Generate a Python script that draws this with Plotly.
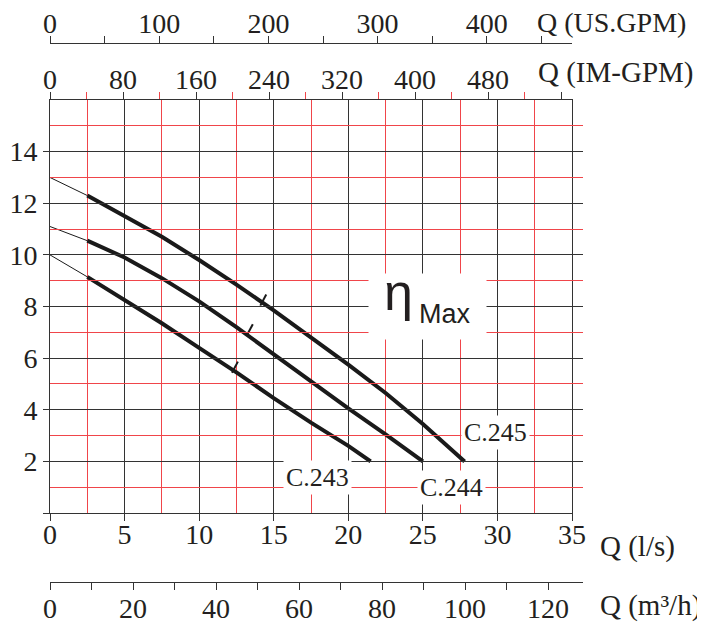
import plotly.graph_objects as go

# ---------------- data ----------------
c243_q = [0, 2.5, 5, 7.5, 10, 12.5, 15, 17.5, 20, 21.5]
c243_h = [10.0, 9.15, 8.25, 7.35, 6.4, 5.45, 4.45, 3.5, 2.6, 2.0]
c244_q = [0, 2.5, 5, 7.5, 10, 12.5, 15, 17.5, 20, 22.5, 25]
c244_h = [11.1, 10.55, 9.9, 9.1, 8.2, 7.2, 6.15, 5.1, 4.05, 3.05, 2.0]
c245_q = [0, 2.5, 5, 7.5, 10, 12.5, 15, 17.5, 20, 22.5, 25, 27.8]
c245_h = [13.0, 12.3, 11.5, 10.7, 9.8, 8.85, 7.85, 6.8, 5.75, 4.65, 3.45, 2.0]
eta_q = [12.4, 13.4, 14.3]
eta_h = [5.65, 7.1, 8.25]

ls_ticks = [0, 5, 10, 15, 20, 25, 30, 35]
ls_minor = [2.5, 7.5, 12.5, 17.5, 22.5, 27.5, 32.5]
h_ticks = [0, 2, 4, 6, 8, 10, 12, 14]
h_ticktext = ["", "2", "4", "6", "8", "10", "12", "14"]
h_minor = [1, 3, 5, 7, 9, 11, 13, 15]
imgpm_ticks = [0, 80, 160, 240, 320, 400, 480, 560]
imgpm_text = ["0", "80", "160", "240", "320", "400", "480", ""]
imgpm_minor = [40, 120, 200, 280, 360, 440, 520]
usgpm_ticks = [0, 100, 200, 300, 400]
usgpm_minor = [50, 150, 250, 350, 450]
m3h_ticks = [0, 20, 40, 60, 80, 100, 120]
m3h_minor = [10, 30, 50, 70, 90, 110]

TXT = "#231f20"
GRID = "#333333"
RED = "#f0454a"
SERIF = "Liberation Serif, Times New Roman, serif"
SANS = "Liberation Sans, Arial, sans-serif"

fig = go.Figure()

for q, h in [(c243_q, c243_h), (c244_q, c244_h), (c245_q, c245_h)]:
    fig.add_trace(go.Scatter(x=q[:2], y=h[:2], mode="lines",
                             line=dict(color="#1a1a1a", width=1),
                             showlegend=False, hoverinfo="skip"))
    fig.add_trace(go.Scatter(x=q[1:], y=h[1:], mode="lines",
                             line=dict(color="#1a1a1a", width=4),
                             showlegend=False, hoverinfo="skip"))

fig.add_trace(go.Scatter(x=eta_q, y=eta_h, mode="markers",
                         marker=dict(symbol="line-ns", size=9, angle=28,
                                     line=dict(color="#1a1a1a", width=2)),
                         showlegend=False, hoverinfo="skip"))

# dummy traces so that the secondary axes are drawn
for ax in ["x2", "x3", "x4"]:
    fig.add_trace(go.Scatter(x=[None], y=[None], xaxis=ax, yaxis="y",
                             showlegend=False, hoverinfo="skip"))

tickfont = dict(family=SERIF, size=28, color=TXT)
XDOM = 522 / 533

# the page body has an 8px margin, so the figure is 8px smaller and shifted
fig.update_layout(
    width=697, height=619,
    margin=dict(l=42, r=122, t=35, b=45, autoexpand=False),
    paper_bgcolor="white", plot_bgcolor="rgba(0,0,0,0)",
    xaxis=dict(domain=[0, XDOM], range=[0, 35], anchor="y", automargin=False,
               tickmode="array", tickvals=ls_ticks,
               ticks="outside", ticklen=7, tickcolor=GRID, tickwidth=1,
               ticklabelstandoff=-11,
               showline=True, linecolor=GRID, linewidth=1,
               showgrid=True, gridcolor=GRID, gridwidth=1, zeroline=False,
               minor=dict(tickmode="array", tickvals=ls_minor, showgrid=True,
                          gridcolor=RED, gridwidth=1, ticks=""),
               tickfont=tickfont),
    yaxis=dict(domain=[0.1280, 0.8942], range=[0, 16], automargin=False,
               tickmode="array", tickvals=h_ticks, ticktext=h_ticktext,
               ticks="outside", ticklen=6, tickcolor=GRID,
               showline=True, linecolor=GRID, linewidth=1, mirror=True,
               showgrid=True, gridcolor=GRID, gridwidth=1, zeroline=False,
               minor=dict(tickmode="array", tickvals=h_minor, showgrid=True,
                          gridcolor=RED, gridwidth=1, ticks=""),
               tickfont=tickfont),
    xaxis2=dict(overlaying="x", side="top", anchor="y", range=[0, 572], automargin=False,
                tickmode="array", tickvals=imgpm_ticks, ticktext=imgpm_text,
                ticks="outside", ticklen=7, tickcolor=GRID, ticklabelstandoff=-8,
                showline=True, linecolor=GRID, linewidth=1,
                showgrid=False, zeroline=False,
                minor=dict(tickmode="array", tickvals=imgpm_minor, ticks="outside",
                           ticklen=7, tickcolor=RED, showgrid=False),
                tickfont=tickfont),
    xaxis3=dict(overlaying="x", side="top", anchor="free", position=1.0, range=[0, 478],
                automargin=False,
                tickmode="array", tickvals=usgpm_ticks,
                ticks="outside", ticklen=7, tickcolor=GRID, ticklabelstandoff=-8,
                showline=True, linecolor=GRID, linewidth=1,
                showgrid=False, zeroline=False,
                minor=dict(tickmode="array", tickvals=usgpm_minor, ticks="outside",
                           ticklen=7, tickcolor=GRID, showgrid=False),
                tickfont=tickfont),
    xaxis4=dict(domain=[0, 1], side="bottom", anchor="free", position=0.0,
                range=[0, 533 / 4.15], automargin=False,
                tickmode="array", tickvals=m3h_ticks,
                ticks="outside", ticklen=7, tickcolor=GRID, ticklabelstandoff=-6,
                showline=True, linecolor=GRID, linewidth=1,
                showgrid=False, zeroline=False,
                minor=dict(tickmode="array", tickvals=m3h_minor, ticks="outside",
                           ticklen=7, tickcolor=GRID, showgrid=False),
                tickfont=tickfont),
)

ann = []
# axis titles (positions given in page pixels, converted to paper coords)
for txt, xp, yp, fs in [("Q (US.GPM)", 535, 22, 28), ("Q (IM-GPM)", 536, 72, 29),
                        ("Q (l/s)", 598, 546, 29), ("Q (m³/h)", 598, 606, 29)]:
    ann.append(dict(text=txt, xref="paper", yref="paper",
                    x=(xp - 50) / 533, y=(582 - yp) / 539,
                    xanchor="left", yanchor="middle", showarrow=False,
                    font=dict(family=SERIF, size=fs, color=TXT)))
# curve labels
for txt, qx, hy in [("C.243", 17.94, 1.36), ("C.244", 26.93, 1.0), ("C.245", 29.84, 3.1)]:
    ann.append(dict(text=txt, x=qx, y=hy, xref="x", yref="y", showarrow=False,
                    bgcolor="white", borderpad=2,
                    font=dict(family=SERIF, size=26, color=TXT)))
# eta max box
ann.append(dict(text=" ", x=25.31, y=8.0, xref="x", yref="y", showarrow=False,
                width=115, height=63, bgcolor="white"))
ann.append(dict(text="η", x=23.35, y=8.57, xref="x", yref="y", showarrow=False,
                font=dict(family=SANS, size=52, color=TXT)))
ann.append(dict(text="Max", x=26.49, y=7.71, xref="x", yref="y", showarrow=False,
                font=dict(family=SANS, size=27, color=TXT)))
fig.update_layout(annotations=ann)

fig.write_html("out.html")
